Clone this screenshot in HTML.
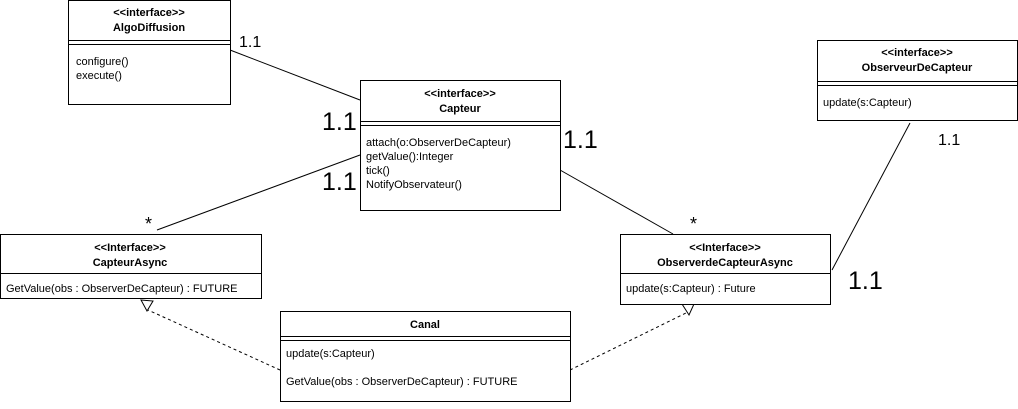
<!DOCTYPE html>
<html><head><meta charset="utf-8"><style>
body{margin:0;background:#fff;}
svg text{font-family:"Liberation Sans",Arial,sans-serif;fill:#000;}
.s{font-size:11px;}
.b{font-size:11px;font-weight:bold;}
.m{font-size:16px;}
.L{font-size:25px;}
.st{font-size:18px;}
</style></head><body>
<svg width="1018" height="404" xmlns="http://www.w3.org/2000/svg">
<g fill="#fff" stroke="#000" stroke-width="1">
<line x1="230" y1="50" x2="360" y2="100"/>
<line x1="157" y1="230" x2="360" y2="155"/>
<line x1="560" y1="170" x2="673" y2="234"/>
<line x1="910" y1="123" x2="832" y2="270"/>
<line x1="280" y1="370" x2="148" y2="310" stroke-dasharray="3,3"/>
<line x1="570" y1="370" x2="688" y2="312" stroke-dasharray="3,3"/>
<polygon points="141,300 153,301 147,311"/>
<polygon points="682,304 694,304 689,315"/>

<rect x="68.5" y="0.5" width="162" height="104"/>
<line x1="68.5" y1="40.5" x2="230.5" y2="40.5"/><line x1="68.5" y1="44.5" x2="230.5" y2="44.5"/>

<rect x="360.5" y="80.5" width="200" height="130"/>
<line x1="360.5" y1="121.5" x2="560.5" y2="121.5"/><line x1="360.5" y1="125.5" x2="560.5" y2="125.5"/>

<rect x="817.5" y="40.5" width="200" height="80"/>
<line x1="817.5" y1="81.5" x2="1017.5" y2="81.5"/><line x1="817.5" y1="85.5" x2="1017.5" y2="85.5"/>

<rect x="0.5" y="234.5" width="261" height="64"/>
<line x1="0.5" y1="273.5" x2="261.5" y2="273.5"/>

<rect x="620.5" y="234.5" width="210" height="70"/>
<line x1="620.5" y1="273.5" x2="830.5" y2="273.5"/>

<rect x="280.5" y="311.5" width="290" height="90"/>
<line x1="280.5" y1="336.5" x2="570.5" y2="336.5"/><line x1="280.5" y1="340.5" x2="570.5" y2="340.5"/>
</g>

<text class="b" x="149" y="16" text-anchor="middle">&lt;&lt;interface&gt;&gt;</text>
<text class="b" x="149" y="31" text-anchor="middle">AlgoDiffusion</text>
<text class="s" x="76" y="65">configure()</text>
<text class="s" x="76" y="79">execute()</text>

<text class="b" x="460" y="97" text-anchor="middle">&lt;&lt;interface&gt;&gt;</text>
<text class="b" x="460" y="112" text-anchor="middle">Capteur</text>
<text class="s" x="366" y="146">attach(o:ObserverDeCapteur)</text>
<text class="s" x="366" y="160">getValue():Integer</text>
<text class="s" x="366" y="174">tick()</text>
<text class="s" x="366" y="188">NotifyObservateur()</text>

<text class="b" x="917" y="56" text-anchor="middle">&lt;&lt;interface&gt;&gt;</text>
<text class="b" x="917" y="71" text-anchor="middle">ObserveurDeCapteur</text>
<text class="s" x="823" y="106">update(s:Capteur)</text>

<text class="b" x="130" y="251" text-anchor="middle">&lt;&lt;Interface&gt;&gt;</text>
<text class="b" x="130" y="266" text-anchor="middle">CapteurAsync</text>
<text class="s" x="6" y="292">GetValue(obs : ObserverDeCapteur) : FUTURE</text>

<text class="b" x="725" y="251" text-anchor="middle">&lt;&lt;Interface&gt;&gt;</text>
<text class="b" x="725" y="266" text-anchor="middle">ObserverdeCapteurAsync</text>
<text class="s" x="626" y="292">update(s:Capteur) : Future</text>

<text class="b" x="425" y="328" text-anchor="middle">Canal</text>
<text class="s" x="286" y="357">update(s:Capteur)</text>
<text class="s" x="286" y="385">GetValue(obs : ObserverDeCapteur) : FUTURE</text>

<text class="m" x="239" y="47">1.1</text>
<text class="L" x="322" y="130">1.1</text>
<text class="L" x="322" y="190">1.1</text>
<text class="L" x="563" y="148">1.1</text>
<text class="m" x="938" y="145">1.1</text>
<text class="L" x="848" y="289">1.1</text>
<text class="st" x="145" y="230">*</text>
<text class="st" x="690" y="230">*</text>
</svg>
</body></html>
